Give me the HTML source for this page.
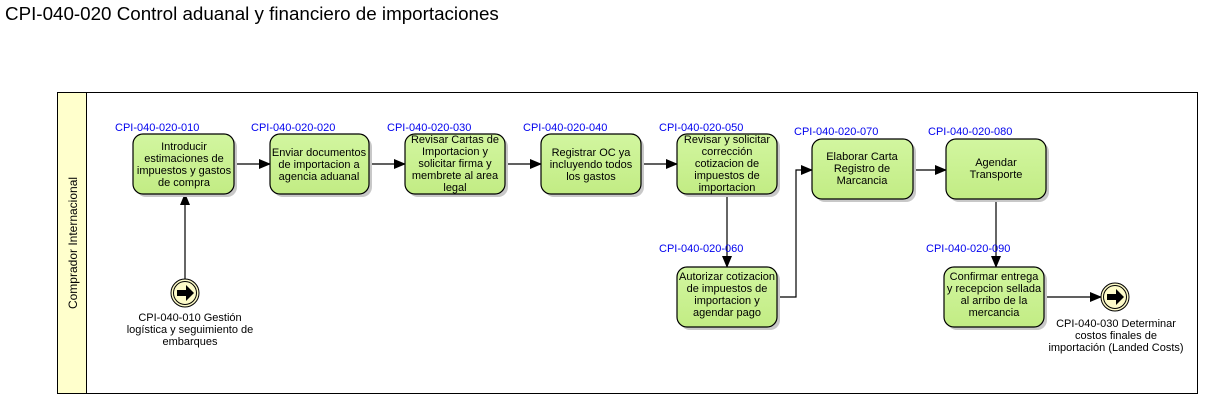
<!DOCTYPE html>
<html><head><meta charset="utf-8"><style>
body{margin:0;background:#fff;width:1206px;height:400px;overflow:hidden}
svg text{font-family:"Liberation Sans",sans-serif}
</style></head><body>
<svg width="1206" height="400" xmlns="http://www.w3.org/2000/svg">
<defs>
<marker id="a" markerWidth="12" markerHeight="10" refX="11" refY="5" orient="auto" markerUnits="userSpaceOnUse"><path d="M0,0 L12,5 L0,10 Z" fill="#000"/></marker>
<linearGradient id="g" x1="0" y1="0" x2="0" y2="1"><stop offset="0" stop-color="#d2f6a0"/><stop offset="1" stop-color="#c2ec84"/></linearGradient>
<g id="ev"><circle r="14" fill="#fdfbc8" stroke="#000" stroke-width="1"/><circle r="11.5" fill="none" stroke="#000" stroke-width="1"/><path d="M-8,-3 H1 V-8 L9,0 L1,8 V3 H-8 Z" fill="#000"/></g>
</defs>
<text x="5" y="20" font-size="18.8" fill="#000">CPI-040-020 Control aduanal y financiero de importaciones</text>
<rect x="57.5" y="92.5" width="1140" height="301" fill="#fff" stroke="#000"/>
<rect x="57.5" y="92.5" width="29" height="301" fill="#ffffcc" stroke="#000"/>
<text transform="translate(77,243) rotate(-90)" font-size="12" text-anchor="middle">Comprador Internacional</text>
<g stroke="#000" stroke-width="1.2" fill="none">
<line x1="234" y1="164" x2="270" y2="164" marker-end="url(#a)"/>
<line x1="369" y1="164" x2="405" y2="164" marker-end="url(#a)"/>
<line x1="505" y1="164" x2="541" y2="164" marker-end="url(#a)"/>
<line x1="641" y1="164" x2="677" y2="164" marker-end="url(#a)"/>
<line x1="727" y1="194" x2="727" y2="267" marker-end="url(#a)"/>
<polyline points="777,297 796,297 796,170 812,170" marker-end="url(#a)"/>
<line x1="913" y1="170" x2="946" y2="170" marker-end="url(#a)"/>
<line x1="996" y1="200" x2="996" y2="267" marker-end="url(#a)"/>
<line x1="1045" y1="297" x2="1101" y2="297" marker-end="url(#a)"/>
<line x1="185" y1="279" x2="185" y2="194" marker-end="url(#a)"/>
</g>
<g fill="#c8c8c8">
<rect x="136" y="137" width="101" height="60" rx="10"/>
<rect x="273" y="137" width="99" height="60" rx="10"/>
<rect x="408" y="137" width="100" height="60" rx="10"/>
<rect x="544" y="137" width="100" height="60" rx="10"/>
<rect x="680" y="137" width="100" height="60" rx="10"/>
<rect x="815" y="142" width="101" height="60" rx="10"/>
<rect x="949" y="142" width="100" height="60" rx="10"/>
<rect x="680" y="270" width="100" height="60" rx="10"/>
<rect x="947" y="270" width="100" height="60" rx="10"/>
</g>
<g fill="url(#g)" stroke="#000" stroke-width="1.2">
<rect x="133" y="134" width="101" height="60" rx="10"/>
<rect x="270" y="134" width="99" height="60" rx="10"/>
<rect x="405" y="134" width="100" height="60" rx="10"/>
<rect x="541" y="134" width="100" height="60" rx="10"/>
<rect x="677" y="134" width="100" height="60" rx="10"/>
<rect x="812" y="139" width="101" height="60" rx="10"/>
<rect x="946" y="139" width="100" height="60" rx="10"/>
<rect x="677" y="267" width="100" height="60" rx="10"/>
<rect x="944" y="267" width="100" height="60" rx="10"/>
</g>
<use href="#ev" x="185" y="293"/>
<use href="#ev" x="1115" y="297"/>
<g font-size="11" fill="#0000ee">
<text x="115" y="131">CPI-040-020-010</text>
<text x="251" y="131">CPI-040-020-020</text>
<text x="387" y="131">CPI-040-020-030</text>
<text x="523" y="131">CPI-040-020-040</text>
<text x="659" y="131">CPI-040-020-050</text>
<text x="794" y="135">CPI-040-020-070</text>
<text x="928" y="135">CPI-040-020-080</text>
<text x="659" y="252">CPI-040-020-060</text>
<text x="926" y="252">CPI-040-020-090</text>
</g>
<g font-size="11" fill="#000" text-anchor="middle">
<text x="184" y="150">Introducir</text><text x="184" y="162">estimaciones de</text><text x="184" y="174">impuestos y gastos</text><text x="184" y="186">de compra</text>
<text x="319" y="156">Enviar documentos</text><text x="319" y="168">de importacion a</text><text x="319" y="180">agencia aduanal</text>
<text x="455" y="143">Revisar Cartas de</text><text x="455" y="155">Importacion y</text><text x="455" y="167">solicitar firma y</text><text x="455" y="179">membrete al area</text><text x="455" y="191">legal</text>
<text x="591" y="156">Registrar OC ya</text><text x="591" y="168">incluyendo todos</text><text x="591" y="180">los gastos</text>
<text x="727" y="143">Revisar y solicitar</text><text x="727" y="155">correcci&#243;n</text><text x="727" y="167">cotizacion de</text><text x="727" y="179">impuestos de</text><text x="727" y="191">importacion</text>
<text x="862" y="160">Elaborar Carta</text><text x="862" y="172">Registro de</text><text x="862" y="184">Marcancia</text>
<text x="996" y="166">Agendar</text><text x="996" y="178">Transporte</text>
<text x="727" y="280">Autorizar cotizacion</text><text x="727" y="292">de impuestos de</text><text x="727" y="304">importacion y</text><text x="727" y="316">agendar pago</text>
<text x="994" y="280">Confirmar entrega</text><text x="994" y="292">y recepcion sellada</text><text x="994" y="304">al arribo de la</text><text x="994" y="316">mercancia</text>
<text x="190" y="321">CPI-040-010 Gesti&#243;n</text><text x="190" y="333">log&#237;stica y seguimiento de</text><text x="190" y="345">embarques</text>
<text x="1116" y="327">CPI-040-030 Determinar</text><text x="1116" y="339">costos finales de</text><text x="1116" y="351">importaci&#243;n (Landed Costs)</text>
</g>
</svg>
</body></html>
